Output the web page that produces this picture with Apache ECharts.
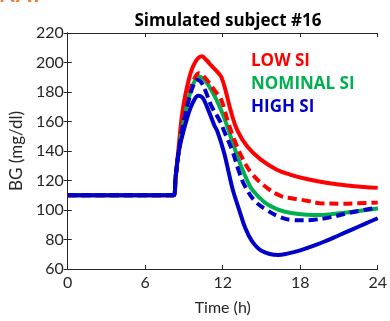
<!DOCTYPE html>
<html>
<head>
<meta charset="utf-8">
<script src="https://cdn.jsdelivr.net/npm/echarts@6/dist/echarts.min.js"></script>
<style>
    html, body {margin: 0; padding: 0; background: #fff;}
    #chart {width: 390px; height: 321px;}
</style>
</head>
<body>
<div id="chart"></div>
<script>
// time in hours, BG in mg/dl
const lowSI = [[0, 110], [7.9, 110], [8.2, 110], [8.35, 122], [8.6, 144], [8.86, 165], [9.23, 183], [9.74, 198],
    [10.37, 204.2], [10.75, 201.5], [11.1, 198], [11.6, 193.5], [11.9, 190], [12.25, 180], [12.63, 167],
    [13.13, 154], [13.9, 143], [14.9, 134.5], [16.15, 127.5], [17.2, 124], [18.5, 121], [20, 118.5],
    [22, 116.3], [24, 115]];
const lowSIDashed = [[0, 110], [7.9, 110], [8.2, 110], [8.35, 122], [8.55, 137], [8.75, 149], [8.98, 162],
    [9.36, 177], [9.75, 188], [10.15, 192.7], [10.6, 190], [11.37, 181], [11.87, 175], [12.38, 160.5],
    [12.88, 148], [13.5, 135.5], [14.27, 124.5], [15.5, 114.5], [16.5, 109.5], [17.3, 108], [18.5, 106.3],
    [19.55, 104.6], [21, 104.3], [22.5, 104.6], [24, 105]];
const nominalSI = [[0, 110], [7.9, 110], [8.2, 110], [8.35, 122], [8.55, 137], [8.75, 149], [8.98, 161],
    [9.36, 176], [9.75, 186], [10.15, 190.5], [10.5, 189], [10.87, 185], [11.5, 175], [12.0, 165],
    [12.4, 155.5], [12.8, 145], [13.13, 136.5], [13.5, 128], [13.9, 120], [14.3, 113.5], [15.27, 105],
    [16.3, 100.3], [17.3, 98], [18.5, 96.8], [19.5, 96.6], [20.5, 97.3], [22, 98.8], [24, 101]];
const highSIDashed = [[0, 110], [7.9, 110], [8.2, 110], [8.35, 122], [8.55, 137], [8.75, 149], [8.98, 160],
    [9.36, 174], [9.7, 184], [10.0, 188.3], [10.3, 187], [10.65, 181], [11.1, 171], [11.8, 160],
    [12.13, 153], [12.75, 140], [13.3, 125], [13.76, 115.5], [14.5, 106], [15.5, 99.5], [16.5, 95],
    [17.3, 93.3], [18.2, 93], [19.2, 93.5], [20.3, 95], [22, 98.5], [24, 101.6]];
const highSI = [[0, 110], [7.9, 110], [8.2, 110], [8.35, 122], [8.55, 137], [8.8, 148], [9.36, 165.6],
    [9.7, 173], [10.1, 177.5], [10.45, 176], [10.87, 168], [11.37, 157], [11.6, 153], [12.1, 139],
    [12.5, 124], [12.8, 113], [13.26, 100.5], [13.76, 87.5], [14.26, 79], [15.0, 72.4], [16.3, 69.5],
    [17, 70.4], [18, 72.6], [19, 75.6], [20, 79.1], [21, 82.9], [22, 86.7], [23, 90.6], [24, 94.4]];

const xTicks = {min: 0, max: 24, interval: 6};
const yTicks = {min: 60, max: 220, interval: 20};
const legendNames = ["LOW SI", "NOMINAL SI", "HIGH SI"];

const RED = "#ff0000";
const GREEN = "#00b050";
const BLUE = "#0000c8";
const AXIS = "#262626";
const FONT = "Lato";
const BOLD = "bold 17px 'Open Sans'";

const chart = echarts.init(document.getElementById("chart"));

const boxAxis = (extra) => Object.assign({
    type: "value",
    axisLine: {show: true, lineStyle: {color: AXIS, width: 1}},
    axisTick: {show: true, inside: true, length: 4, lineStyle: {color: AXIS}},
    splitLine: {show: false},
}, extra);

const line = (name, data, color, dashed) => ({
    name: name,
    type: "line",
    data: data,
    showSymbol: false,
    smooth: 0.4,
    animation: false,
    lineStyle: {color: color, width: 4, type: dashed ? [9, 5] : "solid", cap: "butt"},
    itemStyle: {color: color},
});

chart.setOption({
    animation: false,
    grid: {left: 61, right: 11, top: 33, bottom: 42},
    xAxis: [
        boxAxis({
            ...xTicks,
            position: "bottom",
            name: "Time (h)",
            nameLocation: "middle",
            nameGap: 31,
            nameTextStyle: {color: AXIS, fontFamily: FONT, fontSize: 16},
            axisLabel: {color: AXIS, fontFamily: FONT, fontSize: 16, margin: 6},
        }),
        boxAxis({...xTicks, position: "top", axisLabel: {show: false}}),
    ],
    yAxis: [
        boxAxis({
            ...yTicks,
            position: "left",
            name: "BG (mg/dl)",
            nameLocation: "middle",
            nameGap: 42,
            nameTextStyle: {color: AXIS, fontFamily: FONT, fontSize: 17},
            axisLabel: {color: AXIS, fontFamily: FONT, fontSize: 16, margin: 4},
        }),
        boxAxis({...yTicks, position: "right", axisLabel: {show: false}}),
    ],
    series: [
        line(legendNames[0], lowSI, RED, false),
        line(legendNames[1], nominalSI, GREEN, false),
        line(legendNames[0] + " (dashed)", lowSIDashed, RED, true),
        line(legendNames[2] + " (dashed)", highSIDashed, BLUE, true),
        line(legendNames[2], highSI, BLUE, false),
    ],
    graphic: [
        {type: "text", x: 228, y: 21, style: {text: "Simulated subject #16", font: BOLD,
            fill: "#000", textAlign: "center", textVerticalAlign: "middle"}},
        {type: "text", x: 251, y: 61, style: {text: legendNames[0], font: BOLD,
            fill: RED, textVerticalAlign: "middle"}},
        {type: "text", x: 251, y: 84, style: {text: legendNames[1], font: BOLD,
            fill: GREEN, textVerticalAlign: "middle"}},
        {type: "text", x: 251, y: 107, style: {text: legendNames[2], font: BOLD,
            fill: BLUE, textVerticalAlign: "middle"}},
        // bottom edge of a clipped panel label at the very top
        {type: "text", x: -1, y: -16.5, style: {text: "NAT", font: "bold 22px " + FONT,
            fill: "#ed7d31", textVerticalAlign: "top"}},
    ],
});
</script>
</body>
</html>
